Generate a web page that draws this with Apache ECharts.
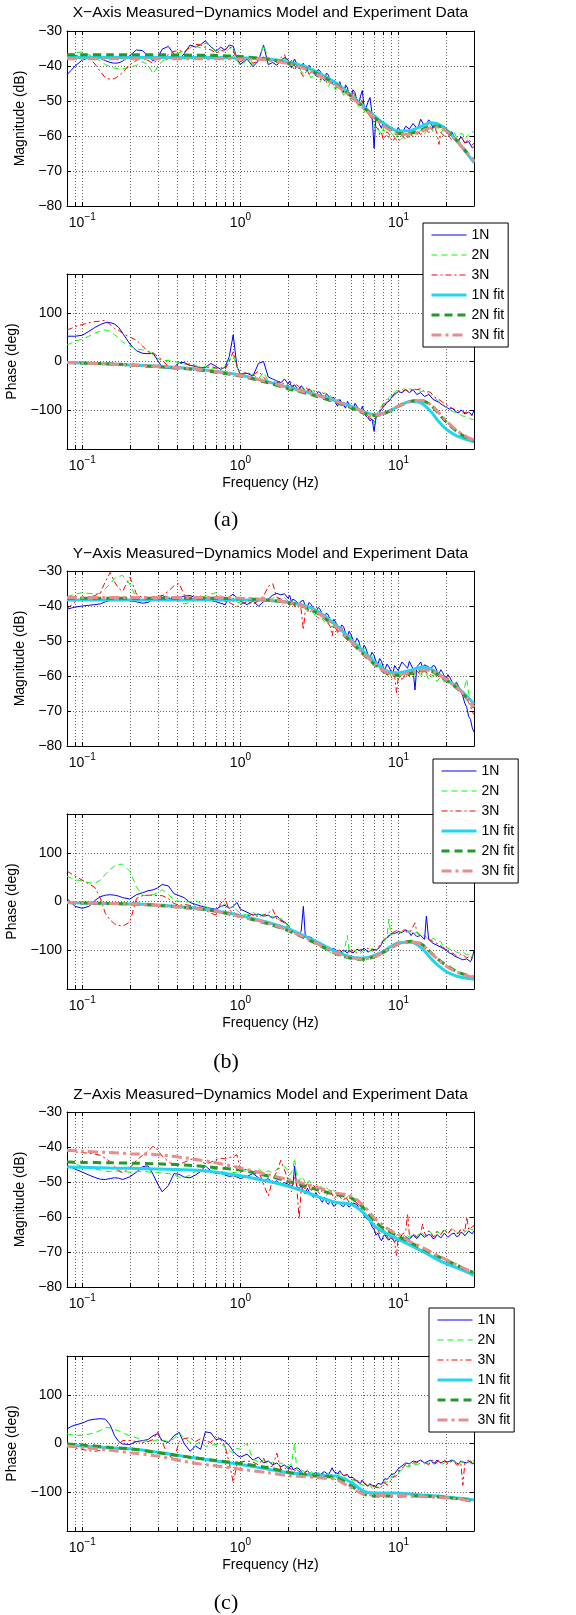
<!DOCTYPE html>
<html>
<head>
<meta charset="utf-8">
<title>Measured-Dynamics Model and Experiment Data</title>
<script src="https://cdn.jsdelivr.net/npm/echarts@6/dist/echarts.min.js"></script>
<style>
  html, body { margin: 0; padding: 0; background: #fff; }
  #chart { width: 576px; height: 1615px; }
</style>
</head>
<body>
<div id="chart"></div>
<script>
// frequency grid of the measured data (Hz): 44 points below 2 Hz, 97 points from 2 to 30 Hz
const FREQ = [
  0.08, 0.085, 0.09, 0.1, 0.11, 0.12, 0.13, 0.14, 0.15, 0.16, 0.17,
  0.18, 0.2, 0.22, 0.24, 0.26, 0.28, 0.3, 0.32, 0.35, 0.38, 0.41,
  0.44, 0.48, 0.52, 0.56, 0.6, 0.65, 0.7, 0.75, 0.8, 0.85, 0.9,
  0.95, 1.0, 1.1, 1.2, 1.3, 1.4, 1.5, 1.6, 1.7, 1.8, 1.9,
  2.0, 2.05, 2.1, 2.15, 2.2, 2.27, 2.35, 2.42, 2.5, 2.57,
  2.65, 2.72, 2.8, 2.9, 3.0, 3.1, 3.2, 3.3, 3.4, 3.5,
  3.6, 3.7, 3.8, 3.9, 4.0, 4.12, 4.25, 4.37, 4.5, 4.62,
  4.75, 4.87, 5.0, 5.15, 5.3, 5.45, 5.6, 5.75, 5.9, 6.05,
  6.2, 6.4, 6.6, 6.8, 7.0, 7.2, 7.4, 7.6, 7.8, 8.0,
  8.2, 8.45, 8.7, 8.95, 9.2, 9.45, 9.7, 9.95, 10.2, 10.5,
  10.8, 11.1, 11.4, 11.7, 12, 12.35, 12.7, 13.05, 13.4, 13.8,
  14.2, 14.6, 15, 15.5, 16, 16.5, 17, 17.5, 18, 18.5,
  19, 19.5, 20, 20.5, 21, 21.75, 22.5, 23.25, 24, 24.75,
  25.5, 26.25, 27, 27.75, 28.5, 29.25, 30
];
// frequency grid of the fitted models (Hz)
const FIT_FREQ = [0.08, 0.1, 0.15, 0.2, 0.3, 0.5, 0.7, 1, 1.5, 2, 2.5, 3, 4, 5, 6, 7, 8, 9, 10, 12, 14, 16, 18, 20, 23, 26, 30];

// tick positions
const X_TICKS = [0.09, 0.1, 0.2, 0.3, 0.4, 0.5, 0.6, 0.7, 0.8, 0.9, 1, 2, 3, 4, 5, 6, 7, 8, 9, 10, 20];
const X_LABELS = [0.1, 1, 10];
const PHASE_TICKS = [-100, 0, 100];

// ---- (a) X axis ----
const A_MAG_1N = [
  -42.5, -41.2, -40.0, -38.3, -37.6, -37.4, -37.8, -38.5, -39.0, -39.2, -39.1,
  -38.6, -37.0, -35.4, -35.6, -37.2, -38.6, -37.5, -35.2, -34.4, -36.6, -38.2,
  -36.5, -34.0, -34.6, -33.9, -32.8, -34.5, -35.8, -34.6, -35.5, -34.0, -34.3,
  -37.8, -39.5, -38.0, -40.2, -38.5, -34.0, -39.6, -39.0, -39.8, -38.3, -37.6,
  -38.2, -39.6, -40.5, -38.9, -38.0, -39.4, -40.8, -40.0, -39.2, -40.9,
  -41.5, -39.8, -40.2, -41.9, -42.8, -41.0, -41.5, -43.4, -44.2, -42.0,
  -42.6, -44.0, -45.0, -44.0, -43.6, -45.6, -44.5, -46.3, -47.4, -45.4,
  -46.2, -48.2, -48.8, -46.8, -47.6, -49.8, -50.8, -48.6, -47.0, -51.6,
  -52.2, -50.4, -49.0, -53.8, -63.5, -54.4, -55.6, -56.8, -57.8, -55.8,
  -56.2, -57.6, -58.6, -57.4, -57.0, -58.2, -58.8, -57.6, -57.4, -59.0,
  -58.2, -57.2, -56.8, -58.0, -57.6, -56.4, -56.2, -57.8, -57.0, -55.2,
  -55.6, -57.2, -56.6, -55.4, -56.0, -57.8, -57.2, -56.2, -56.8, -57.6,
  -58.0, -57.2, -58.6, -59.2, -59.6, -58.8, -60.4, -61.0, -61.4, -60.2,
  -61.0, -62.0, -62.4, -61.6, -62.0, -63.4, -63.0
];
const A_MAG_2N = [
  -37.0, -36.6, -36.2, -36.0, -36.8, -37.6, -38.6, -39.6, -40.2, -40.6, -40.8,
  -40.8, -40.4, -39.8, -38.8, -39.6, -42.2, -40.2, -38.6, -37.8, -37.0, -36.2,
  -35.8, -34.8, -34.4, -34.8, -33.4, -34.2, -36.0, -35.4, -36.2, -35.0, -34.6,
  -38.4, -40.0, -38.2, -39.6, -38.2, -34.0, -37.8, -39.2, -38.4, -39.4, -37.8,
  -39.4, -40.2, -38.6, -40.0, -41.0, -40.4, -39.8, -41.6, -42.2, -41.2,
  -40.6, -42.4, -43.4, -42.6, -41.8, -43.8, -44.6, -43.2, -42.8, -44.6,
  -45.8, -44.8, -44.4, -46.0, -46.8, -45.0, -45.4, -47.4, -48.4, -46.6,
  -47.0, -49.0, -49.8, -48.0, -48.6, -50.6, -51.6, -49.4, -50.2, -52.6,
  -53.8, -52.4, -53.0, -55.6, -56.4, -58.4, -57.6, -58.8, -59.4, -57.8,
  -58.2, -60.0, -60.6, -59.0, -59.6, -61.0, -61.2, -59.4, -59.8, -60.8,
  -60.6, -59.0, -59.4, -60.6, -60.0, -59.2, -58.6, -60.0, -59.2, -58.4,
  -58.0, -59.4, -58.6, -57.8, -57.4, -58.8, -58.2, -57.2, -57.6, -59.0,
  -58.8, -57.8, -58.4, -59.4, -59.6, -58.6, -59.0, -60.4, -60.2, -59.2,
  -59.4, -60.8, -60.6, -59.6, -60.0, -58.6, -59.2
];
const A_MAG_3N = [
  -36.6, -36.8, -37.0, -37.4, -37.6, -39.4, -41.6, -43.4, -43.8, -43.6, -42.8,
  -41.8, -39.6, -38.4, -37.6, -38.4, -39.2, -38.2, -37.4, -36.8, -35.8, -35.6,
  -36.0, -34.6, -33.8, -34.0, -34.8, -35.4, -36.2, -35.8, -35.2, -34.4, -35.6,
  -38.2, -38.8, -37.6, -39.2, -38.6, -37.4, -38.8, -38.2, -39.0, -37.6, -36.8,
  -39.6, -39.0, -38.4, -40.4, -41.2, -39.6, -40.0, -42.0, -43.0, -42.0,
  -41.2, -42.4, -42.6, -40.8, -41.6, -43.2, -44.0, -42.4, -43.2, -44.6,
  -45.2, -43.8, -44.6, -45.8, -46.4, -44.8, -45.6, -47.2, -47.6, -46.0,
  -46.8, -48.4, -49.4, -47.6, -48.2, -50.2, -51.0, -48.8, -49.8, -52.0,
  -52.8, -53.6, -54.4, -55.2, -56.0, -57.4, -58.0, -59.6, -59.0, -61.0,
  -60.2, -58.8, -59.4, -60.8, -61.6, -60.6, -60.2, -61.6, -61.0, -59.8,
  -59.8, -61.0, -60.4, -59.2, -59.0, -60.2, -59.6, -58.4, -58.4, -59.6,
  -58.8, -57.6, -57.8, -59.0, -58.6, -57.8, -57.6, -59.2, -62.4, -59.0,
  -58.8, -60.0, -59.6, -58.8, -60.4, -61.0, -60.0, -61.4, -61.2, -60.2,
  -60.6, -62.0, -61.8, -60.8, -61.2, -62.6, -62.0
];
const A_PH_1N = [
  52, 52, 52, 54, 62, 70, 76, 80, 80, 77, 70,
  58, 36, 22, 17, 16, 17, 2, -12, -14, -12, -2,
  -2, -8, -10, -14, -12, -4, -10, -16, -12, 10, 55,
  -10, -28, -24, -30, -4, 0, -32, -36, -40, -44, -36,
  -46, -40, -52, -56, -48, -54, -58, -50, -54, -64,
  -62, -56, -60, -66, -70, -62, -64, -72, -74, -66,
  -68, -76, -80, -74, -86, -92, -78, -84, -90, -96,
  -82, -88, -94, -100, -86, -92, -98, -106, -92, -104,
  -112, -116, -122, -118, -144, -116, -112, -104, -98, -94,
  -90, -84, -82, -76, -74, -68, -66, -62, -58, -64,
  -66, -58, -60, -64, -66, -58, -62, -68, -70, -64,
  -66, -72, -74, -68, -72, -78, -80, -76, -84, -88,
  -90, -92, -94, -98, -98, -96, -100, -104, -106, -100,
  -102, -108, -108, -104, -106, -110, -100
];
const A_PH_2N = [
  34, 38, 42, 46, 52, 58, 63, 65, 62, 55, 48,
  40, 32, 26, 24, 22, 14, 6, 2, 2, 0, -2,
  -6, -4, -8, -14, -10, -16, -12, -18, -10, 4, 12,
  -12, -24, -30, -26, -36, -22, -40, -44, -38, -48, -44,
  -48, -54, -56, -50, -50, -58, -60, -54, -56, -62,
  -64, -60, -58, -64, -66, -72, -70, -66, -64, -72,
  -78, -70, -74, -82, -86, -78, -80, -88, -92, -84,
  -86, -94, -98, -90, -92, -100, -104, -96, -98, -106,
  -110, -116, -112, -120, -128, -112, -104, -98, -92, -86,
  -80, -78, -74, -70, -66, -64, -60, -56, -62, -58,
  -56, -60, -62, -56, -54, -58, -60, -56, -58, -62,
  -64, -60, -62, -66, -70, -72, -76, -78, -82, -84,
  -88, -92, -94, -96, -100, -102, -104, -106, -108, -110,
  -112, -114, -114, -116, -118, -122, -120
];
const A_PH_3N = [
  65, 68, 72, 76, 80, 82, 83, 85, 76, 68, 64,
  58, 50, 44, 32, 20, 18, 10, 3, -10, -17, -4,
  -4, -8, -10, -12, -14, -10, -14, -12, -16, 0, 20,
  -8, -26, -22, -28, -20, -32, -42, -46, -44, -40, -48,
  -50, -46, -44, -52, -56, -48, -52, -58, -60, -54,
  -56, -62, -66, -60, -62, -68, -72, -64, -68, -74,
  -76, -80, -84, -78, -80, -86, -88, -82, -84, -90,
  -94, -88, -90, -96, -100, -92, -94, -102, -106, -100,
  -104, -112, -118, -116, -124, -114, -108, -100, -96, -90,
  -86, -82, -78, -72, -70, -66, -64, -60, -58, -62,
  -62, -58, -56, -62, -60, -56, -54, -58, -62, -56,
  -58, -62, -66, -62, -64, -70, -74, -76, -78, -82,
  -84, -86, -88, -92, -94, -96, -98, -102, -102, -104,
  -106, -102, -104, -108, -110, -108, -112
];
const A_MAG_1N_FIT = [-37.6, -37.6, -37.6, -37.6, -37.6, -37.6, -37.6, -37.7, -38.0, -38.9, -40.0, -41.6, -44.8, -48.3, -51.5, -54.2, -56.3, -57.8, -58.6, -58.4, -57.2, -56.2, -56.7, -58.2, -61.0, -64.0, -67.6];
const A_MAG_2N_FIT = [-36.8, -36.8, -36.8, -36.8, -36.8, -36.9, -37.0, -37.3, -38.1, -39.2, -40.5, -42.0, -45.2, -48.6, -51.8, -54.6, -56.8, -58.4, -59.3, -59.2, -58.2, -57.2, -57.2, -58.4, -61.0, -63.8, -67.0];
const A_MAG_3N_FIT = [-37.9, -37.9, -37.9, -37.9, -37.9, -37.9, -37.9, -38.0, -38.3, -39.3, -40.6, -42.2, -45.4, -48.8, -52.0, -54.8, -57.0, -58.6, -59.5, -59.5, -58.6, -57.6, -57.4, -58.6, -61.1, -63.9, -67.2];
const A_PH_1N_FIT = [-2, -3, -5, -7, -10, -15, -20, -28, -42, -53, -61, -68, -81, -92, -103, -109, -107, -100, -92, -82, -86, -103, -124, -139, -152, -159, -165];
const A_PH_2N_FIT = [-2, -3, -5, -7, -11, -16, -22, -30, -44, -56, -64, -71, -84, -95, -106, -111, -108, -100, -92, -82, -80, -90, -108, -124, -142, -154, -163];
const A_PH_3N_FIT = [-2, -3, -5, -7, -10, -15, -21, -29, -42, -54, -62, -69, -82, -93, -104, -110, -107, -100, -92, -82, -80, -89, -106, -122, -140, -152, -162];

// ---- (b) Y axis ----
const B_MAG_1N = [
  -40.9, -40.6, -40.3, -40.0, -39.8, -39.6, -39.4, -38.8, -38.4, -38.3, -38.3,
  -38.3, -38.5, -38.8, -39.2, -39.0, -38.0, -37.4, -37.0, -37.8, -38.2, -37.6,
  -37.2, -37.0, -37.6, -37.2, -38.0, -38.4, -38.8, -39.2, -39.6, -37.4, -36.6,
  -37.8, -38.6, -39.6, -38.6, -40.0, -38.8, -38.0, -36.9, -36.4, -36.8, -36.5,
  -37.8, -37.0, -38.8, -38.0, -37.6, -38.8, -39.4, -38.6, -38.4, -40.0,
  -40.2, -39.0, -39.6, -40.8, -41.8, -40.4, -41.0, -42.6, -43.4, -42.0,
  -42.6, -44.2, -45.0, -43.8, -44.6, -45.8, -46.8, -45.4, -46.0, -47.8,
  -48.6, -47.2, -48.2, -49.6, -50.6, -49.2, -50.0, -52.0, -52.8, -51.2,
  -52.0, -53.8, -54.8, -53.2, -54.2, -55.8, -56.6, -55.0, -55.8, -57.4,
  -58.2, -56.6, -57.4, -58.6, -59.2, -57.0, -57.8, -58.4, -58.8, -56.0,
  -56.6, -57.2, -57.8, -55.8, -56.2, -58.0, -64.0, -57.4, -56.8, -56.0,
  -57.6, -56.8, -56.4, -57.4, -58.0, -57.0, -57.2, -58.6, -59.4, -58.2,
  -59.0, -60.0, -60.8, -59.6, -60.2, -61.6, -62.4, -61.8, -63.0, -64.4,
  -65.8, -67.8, -69.0, -71.6, -72.4, -74.8, -76.0
];
const B_MAG_2N = [
  -37.3, -37.0, -36.6, -36.2, -36.4, -36.6, -36.4, -35.0, -33.6, -32.1, -31.5,
  -31.3, -33.8, -37.8, -38.6, -38.4, -37.6, -37.2, -37.0, -37.4, -38.2, -38.8,
  -39.4, -39.0, -38.0, -37.6, -37.2, -36.6, -36.2, -37.0, -38.0, -38.6, -37.8,
  -38.8, -39.2, -38.4, -39.6, -38.2, -37.4, -38.6, -37.8, -37.2, -38.8, -37.6,
  -38.6, -39.8, -39.4, -38.4, -38.8, -39.6, -40.6, -39.4, -39.8, -41.0,
  -41.6, -40.4, -41.0, -42.2, -43.0, -41.6, -42.4, -43.8, -44.6, -43.2,
  -44.0, -45.4, -46.2, -45.0, -45.8, -47.0, -47.8, -46.6, -47.2, -48.8,
  -49.6, -48.2, -49.0, -50.6, -51.4, -50.2, -51.0, -52.6, -53.4, -52.0,
  -53.0, -54.6, -55.6, -54.4, -55.2, -56.6, -57.4, -56.2, -57.0, -58.6,
  -59.2, -58.0, -58.8, -60.0, -60.6, -59.0, -59.4, -61.0, -60.2, -58.8,
  -59.0, -60.4, -59.8, -58.6, -58.6, -60.0, -59.4, -58.4, -58.8, -59.8,
  -60.0, -59.0, -59.6, -61.0, -60.8, -59.6, -60.2, -61.6, -61.4, -60.2,
  -60.6, -61.8, -62.0, -60.8, -61.6, -62.8, -63.2, -62.0, -62.6, -64.0,
  -64.4, -63.0, -60.8, -65.0, -66.2, -67.4, -69.0
];
const B_MAG_3N = [
  -40.7, -39.8, -38.8, -38.2, -37.6, -37.0, -36.2, -33.0, -30.4, -33.2, -35.0,
  -35.8, -31.8, -36.6, -37.6, -37.8, -37.6, -37.8, -37.0, -35.8, -34.2, -33.6,
  -36.8, -37.8, -38.0, -37.8, -37.6, -38.0, -38.2, -38.4, -38.6, -39.0, -39.6,
  -40.2, -39.6, -38.8, -39.4, -38.6, -37.2, -34.4, -33.6, -37.6, -38.0, -38.4,
  -39.0, -39.8, -38.4, -39.0, -40.2, -38.8, -39.2, -41.0, -46.8, -41.2,
  -40.6, -42.0, -41.6, -40.8, -42.4, -43.4, -43.6, -42.2, -43.0, -44.4,
  -44.8, -45.8, -48.6, -45.6, -46.2, -47.6, -47.0, -45.8, -48.4, -49.2,
  -48.0, -49.0, -50.0, -51.2, -50.6, -51.2, -51.8, -53.0, -52.6, -53.2,
  -53.6, -55.2, -54.8, -55.4, -55.6, -57.0, -56.4, -57.6, -57.8, -59.0,
  -58.4, -59.8, -59.4, -60.2, -60.8, -59.8, -64.8, -60.6, -59.6, -61.0,
  -60.4, -58.8, -59.2, -60.2, -58.8, -59.8, -59.6, -58.6, -58.4, -59.6,
  -59.0, -58.2, -58.6, -60.0, -59.6, -58.8, -59.2, -60.6, -60.4, -59.4,
  -60.0, -61.0, -61.4, -60.6, -61.0, -62.2, -62.6, -62.0, -63.4, -64.2,
  -64.8, -65.4, -66.4, -67.6, -68.6, -70.2, -71.0
];
const B_PH_1N = [
  6, -2, -10, -14, -10, 2, 10, 13, 14, 13, 11,
  8, 5, 14, 18, 22, 24, 28, 35, 32, 16, 12,
  8, -2, -6, -9, -12, -14, -16, -10, -8, -14, -10,
  -2, -16, -22, -28, -26, -30, -28, -34, -30, -38, -42,
  -48, -54, -60, -56, -62, -68, -66, -62, -10, -70,
  -72, -68, -74, -78, -80, -86, -84, -90, -92, -98,
  -96, -100, -102, -96, -98, -104, -108, -102, -100, -96,
  -106, -100, -98, -106, -104, -98, -96, -102, -104, -96,
  -98, -104, -102, -98, -96, -100, -100, -94, -90, -82,
  -78, -74, -72, -66, -62, -66, -70, -62, -58, -64,
  -66, -58, -60, -64, -70, -64, -66, -72, -76, -70,
  -72, -78, -30, -78, -82, -86, -88, -90, -92, -94,
  -96, -98, -100, -104, -106, -108, -112, -114, -116, -118,
  -120, -124, -118, -120, -124, -116, -100
];
const B_PH_2N = [
  52, 48, 45, 42, 39, 37, 44, 56, 66, 73, 76,
  77, 62, 30, 13, 12, 14, 18, 24, 14, 4, 0,
  -2, 0, 2, -4, -10, -16, -22, -12, -4, -14, -10,
  -18, -24, -28, -22, -30, -26, -34, -30, -38, -34, -42,
  -50, -54, -56, -62, -60, -64, -66, -68, -70, -74,
  -76, -80, -82, -84, -86, -90, -92, -96, -98, -100,
  -102, -106, -108, -102, -104, -110, -112, -106, -104, -108,
  -70, -104, -108, -102, -106, -100, -100, -106, -104, -100,
  -98, -104, -102, -96, -96, -100, -98, -92, -86, -84,
  -80, -72, -36, -70, -68, -62, -62, -66, -68, -62,
  -60, -64, -66, -60, -62, -66, -70, -64, -68, -72,
  -76, -70, -72, -78, -80, -76, -78, -84, -86, -82,
  -90, -92, -94, -96, -98, -100, -102, -104, -106, -102,
  -104, -108, -110, -106, -108, -114, -112
];
const B_PH_3N = [
  63, 57, 52, 44, 36, 29, 7, -25, -38, -46, -49,
  -51, -42, 6, 12, 13, 13, 12, 12, 6, -4, -8,
  -6, -8, -10, -12, -18, -24, -28, -4, 6, -18, -22,
  -26, -28, -30, -26, -32, -28, -24, -16, -36, -40, -44,
  -54, -56, -58, -62, -62, -64, -66, -70, -72, -70,
  -74, -78, -80, -82, -84, -88, -90, -92, -94, -98,
  -100, -104, -96, -102, -106, -102, -100, -106, -104, -100,
  -98, -104, -106, -100, -100, -106, -104, -98, -96, -100,
  -102, -96, -98, -102, -104, -98, -94, -90, -84, -80,
  -76, -72, -70, -66, -64, -60, -60, -64, -66, -62,
  -58, -62, -64, -60, -60, -64, -44, -62, -66, -70,
  -74, -70, -72, -76, -80, -82, -84, -86, -88, -92,
  -94, -96, -98, -102, -104, -106, -108, -112, -112, -108,
  -110, -114, -116, -112, -112, -118, -116
];
const B_MAG_1N_FIT = [-38.3, -38.3, -38.3, -38.3, -38.3, -38.3, -38.3, -38.3, -38.4, -38.9, -39.8, -41.2, -45.3, -49.6, -53.0, -55.9, -58.0, -59.0, -59.1, -58.3, -57.5, -58.0, -59.5, -61.0, -63.0, -65.0, -68.0];
const B_MAG_2N_FIT = [-37.8, -37.8, -37.8, -37.8, -37.8, -37.8, -37.8, -37.9, -38.3, -39.0, -40.2, -41.8, -46.0, -50.3, -53.8, -56.6, -58.6, -59.6, -59.8, -59.2, -58.5, -58.6, -59.8, -61.2, -63.2, -65.5, -69.0];
const B_MAG_3N_FIT = [-37.6, -37.6, -37.6, -37.6, -37.6, -37.6, -37.6, -37.8, -38.2, -39.0, -40.1, -41.6, -45.8, -50.1, -53.6, -56.4, -58.4, -59.4, -59.6, -59.0, -58.3, -58.4, -59.6, -61.0, -63.0, -65.3, -68.8];
const B_PH_1N_FIT = [-2, -3, -4, -5, -7, -13, -19, -29, -43, -56, -70, -82, -103, -114, -116, -111, -103, -92, -85, -84, -96, -117, -133, -144, -153, -157, -160];
const B_PH_2N_FIT = [-2, -3, -4, -5, -8, -14, -20, -31, -46, -60, -74, -86, -107, -117, -119, -114, -105, -95, -87, -82, -88, -105, -120, -131, -143, -150, -155];
const B_PH_3N_FIT = [-2, -3, -4, -5, -8, -14, -20, -31, -45, -59, -73, -85, -106, -116, -118, -114, -105, -95, -87, -83, -89, -106, -121, -133, -144, -151, -156];

// ---- (c) Z axis ----
const C_MAG_1N = [
  -45.3, -45.8, -46.3, -47.2, -48.0, -48.7, -49.2, -49.3, -49.0, -48.8, -48.9,
  -49.3, -48.5, -47.2, -45.6, -45.4, -47.8, -50.6, -52.8, -51.0, -47.6, -47.8,
  -48.6, -48.8, -48.0, -47.0, -45.4, -46.8, -47.6, -47.4, -48.0, -48.4, -48.2,
  -48.6, -49.0, -48.4, -47.6, -48.8, -49.6, -49.0, -50.4, -49.6, -50.8, -50.2,
  -50.6, -51.4, -51.8, -50.8, -45.4, -51.2, -52.0, -51.0, -52.6, -53.4,
  -51.8, -52.8, -53.6, -54.4, -53.0, -54.2, -55.0, -55.8, -54.4, -55.8,
  -56.4, -55.2, -55.6, -57.0, -56.8, -55.8, -56.0, -56.8, -57.0, -55.8,
  -56.2, -57.2, -56.8, -56.0, -55.6, -56.4, -57.4, -57.8, -58.6, -59.6,
  -60.2, -60.8, -61.4, -62.8, -63.6, -65.2, -64.6, -66.0, -66.8, -65.6,
  -65.0, -66.2, -66.6, -65.8, -65.4, -67.0, -67.4, -66.2, -66.0, -67.0,
  -66.8, -65.6, -65.2, -66.4, -66.2, -65.2, -65.0, -66.2, -65.8, -64.8,
  -64.8, -65.8, -66.0, -65.0, -65.2, -66.2, -66.0, -65.0, -65.0, -66.0,
  -65.8, -64.6, -64.8, -65.8, -65.6, -64.8, -64.6, -65.6, -65.4, -64.4,
  -64.6, -65.4, -65.0, -64.0, -64.2, -64.8, -64.0
];
const C_MAG_2N = [
  -44.1, -44.4, -44.8, -45.6, -46.0, -46.3, -46.6, -46.9, -47.0, -46.8, -46.9,
  -47.0, -47.2, -47.0, -46.9, -47.1, -47.3, -47.4, -47.4, -47.6, -48.0, -48.6,
  -48.8, -48.0, -47.0, -46.0, -45.6, -46.2, -46.4, -47.0, -47.2, -47.6, -47.4,
  -47.2, -47.0, -46.8, -47.4, -46.2, -47.6, -46.8, -47.4, -46.4, -46.0, -45.6,
  -46.8, -48.0, -47.6, -46.4, -43.2, -48.6, -49.8, -48.4, -49.0, -50.2,
  -50.8, -49.6, -50.2, -51.0, -51.6, -50.6, -51.0, -52.2, -52.6, -51.6,
  -52.2, -53.0, -53.4, -52.4, -53.0, -54.0, -54.2, -53.2, -53.6, -54.8,
  -54.6, -53.8, -54.2, -55.4, -55.0, -55.8, -56.2, -57.0, -57.6, -58.2,
  -59.0, -60.0, -60.6, -61.6, -62.2, -62.4, -63.0, -64.0, -64.4, -63.4,
  -64.0, -65.0, -65.4, -64.2, -64.8, -66.0, -65.8, -64.8, -65.2, -66.2,
  -65.8, -64.8, -65.0, -65.8, -65.6, -64.8, -64.6, -65.6, -65.4, -64.2,
  -64.4, -65.4, -65.2, -64.0, -64.4, -65.2, -65.0, -64.0, -64.2, -65.0,
  -64.8, -63.8, -64.0, -64.8, -64.6, -63.6, -63.8, -64.6, -64.4, -63.2,
  -63.6, -64.4, -64.0, -63.0, -63.4, -63.8, -63.0
];
const C_MAG_3N = [
  -41.0, -41.2, -41.4, -41.6, -41.8, -42.0, -42.4, -43.2, -44.2, -45.6, -46.8,
  -47.4, -46.0, -43.8, -42.4, -41.2, -39.8, -40.8, -42.6, -44.2, -45.2, -45.0,
  -44.4, -43.6, -43.2, -44.0, -44.8, -44.4, -43.6, -43.2, -43.4, -43.0, -42.8,
  -42.2, -46.6, -46.4, -47.2, -46.8, -50.6, -54.0, -49.2, -47.0, -43.8, -46.6,
  -49.4, -50.6, -52.8, -50.0, -48.6, -51.0, -60.6, -52.4, -51.4, -52.0,
  -50.2, -51.4, -52.8, -51.0, -51.8, -53.0, -53.4, -52.2, -52.6, -53.8,
  -54.0, -52.8, -53.4, -54.8, -54.6, -53.6, -54.0, -55.0, -55.2, -54.2,
  -54.6, -55.8, -55.6, -54.8, -55.0, -56.0, -56.6, -57.2, -58.2, -59.0,
  -59.6, -60.6, -61.2, -62.2, -62.8, -64.6, -63.6, -64.8, -65.2, -63.8,
  -64.2, -65.4, -66.4, -65.2, -65.0, -67.4, -71.0, -65.8, -66.4, -65.0,
  -65.2, -64.2, -59.0, -65.0, -66.0, -64.8, -64.6, -65.8, -65.6, -64.6,
  -62.0, -64.6, -65.4, -64.0, -64.4, -65.6, -65.4, -64.2, -64.0, -65.0,
  -64.8, -63.4, -63.6, -64.8, -64.6, -63.2, -63.8, -64.8, -64.6, -63.6,
  -63.4, -64.2, -60.0, -63.6, -63.8, -62.8, -62.4
];
const C_PH_1N = [
  30, 35, 38, 42, 48, 50, 51, 50, 38, 16, 4,
  -1, -2, 4, 6, 8, 16, 20, 6, 2, 16, 23,
  0, -16, -5, -12, 24, 22, 8, 10, 4, -4, -16,
  -24, -28, -22, -34, -28, -40, -36, -44, -40, -48, -44,
  -52, -48, -46, -54, -56, -50, -52, -58, -62, -58,
  -56, -60, -64, -62, -60, -62, -66, -60, -58, -62,
  -64, -58, -50, -58, -60, -62, -56, -62, -66, -68,
  -64, -70, -74, -70, -72, -78, -80, -82, -76, -82,
  -86, -88, -84, -86, -90, -88, -82, -86, -84, -78,
  -72, -74, -70, -64, -60, -62, -58, -52, -48, -46,
  -44, -40, -38, -42, -42, -36, -34, -38, -40, -34,
  -36, -40, -42, -36, -34, -40, -40, -34, -36, -40,
  -42, -36, -34, -38, -40, -34, -36, -40, -42, -36,
  -38, -42, -40, -36, -36, -42, -40
];
const C_PH_2N = [
  20, 18, 17, 17, 19, 22, 27, 33, 32, 29, 26,
  22, 16, 12, 6, 4, 5, 8, 7, 4, 10, 22,
  12, 2, -2, 4, -6, -4, -2, 0, -8, -14, -20,
  -10, -12, 0, -32, -38, -34, -42, -38, -46, -40, -44,
  -48, -44, -42, -46, 0, -54, -60, -54, -56, -62,
  -64, -60, -58, -62, -66, -60, -62, -66, -68, -64,
  -60, -64, -66, -62, -76, -66, -62, -66, -68, -72,
  -74, -78, -80, -74, -76, -82, -86, -84, -80, -86,
  -90, -84, -86, -92, -94, -88, -86, -92, -90, -84,
  -78, -80, -76, -70, -68, -66, -64, -60, -56, -54,
  -52, -46, -44, -48, -48, -42, -40, -44, -44, -40,
  -38, -42, -44, -40, -38, -42, -42, -38, -36, -40,
  -42, -38, -38, -40, -40, -36, -36, -40, -42, -38,
  -38, -40, -40, -36, -36, -38, -40
];
const C_PH_3N = [
  -5, -7, -9, -12, -15, -16, -14, -12, -10, -8, -2,
  6, 6, 4, 2, 4, 8, 24, 2, -24, -32, 4,
  10, 12, 4, 10, 6, 2, 16, 8, -6, -40, -80,
  -44, -38, -36, -38, -44, -30, -50, -46, -20, -54, -50,
  -56, -50, -52, -58, -60, -54, -56, -62, -64, -58,
  -60, -66, -68, -64, -62, -66, -68, -62, -64, -70,
  -70, -64, -62, -68, -68, -62, -60, -64, -66, -70,
  -64, -68, -72, -74, -70, -76, -78, -80, -74, -80,
  -84, -88, -82, -88, -92, -90, -86, -92, -94, -86,
  -80, -86, -82, -76, -70, -72, -66, -60, -54, -50,
  -48, -42, -38, -46, -44, -40, -36, -40, -42, -36,
  -34, -38, -40, -44, -36, -34, -42, -38, -34, -40,
  -40, -34, -36, -42, -42, -36, -38, -44, -44, -40,
  -86, -40, -38, -34, -40, -36, -34
];
const C_MAG_1N_FIT = [-45.7, -45.8, -46.0, -46.1, -46.3, -46.6, -47.2, -48.2, -49.8, -51.2, -52.6, -54.0, -55.8, -56.4, -58.8, -62.4, -64.3, -65.5, -66.4, -68.2, -69.7, -71.1, -72.4, -73.3, -74.4, -75.4, -76.7];
const C_MAG_2N_FIT = [-44.3, -44.4, -44.5, -44.6, -44.8, -45.3, -45.9, -46.6, -48.3, -49.8, -51.0, -52.1, -53.6, -54.5, -57.4, -61.0, -63.2, -64.5, -65.5, -67.4, -68.9, -70.3, -71.4, -72.4, -73.6, -74.8, -75.9];
const C_MAG_3N_FIT = [-40.9, -41.2, -41.6, -41.9, -42.2, -43.4, -44.5, -46.0, -47.9, -49.3, -50.4, -51.4, -53.1, -54.0, -56.7, -60.2, -62.4, -64.0, -65.0, -67.2, -68.6, -70.0, -71.2, -72.2, -73.5, -74.7, -75.9];
const C_PH_1N_FIT = [-4, -5, -9, -11, -18, -29, -36, -43, -53, -60, -63, -66, -67, -80, -98, -102, -102, -102, -102, -104, -106, -107, -108, -110, -112, -113, -116];
const C_PH_2N_FIT = [-1, -3, -8, -11, -19, -29, -35, -41, -50, -59, -64, -67, -70, -87, -104, -108, -108, -108, -108, -108, -108, -109, -110, -111, -113, -115, -120];
const C_PH_3N_FIT = [-5, -8, -14, -19, -26, -40, -46, -53, -60, -66, -68, -70, -74, -91, -104, -106, -107, -107, -107, -108, -109, -110, -111, -112, -114, -116, -120];

const NAMES = ['1N', '2N', '3N', '1N fit', '2N fit', '3N fit'];

const FONT = '"Liberation Sans", Arial, Helvetica, sans-serif';
const STYLES = {
  '1N': { color: '#0000ff', width: 1, type: 'solid' },
  '2N': { color: '#00ff00', width: 1, type: [6, 4] },
  '3N': { color: '#ff0000', width: 1, type: [6, 3, 2, 3] },
  '1N fit': { color: '#1ed6f0', width: 3, type: 'solid' },
  '2N fit': { color: '#229a28', width: 3, type: [8, 5] },
  '3N fit': { color: '#e88c8c', width: 3, type: [10, 4, 3, 4] }
};

const PANELS = [
  {
    title: 'X−Axis Measured−Dynamics Model and Experiment Data', tag: '(a)',
    magTop: 31, phTop: 274, titleY: 13, tagY: 520, legendLeft: 423, legendTop: 223,
    mag: [A_MAG_1N, A_MAG_2N, A_MAG_3N, A_MAG_1N_FIT, A_MAG_2N_FIT, A_MAG_3N_FIT],
    ph: [A_PH_1N, A_PH_2N, A_PH_3N, A_PH_1N_FIT, A_PH_2N_FIT, A_PH_3N_FIT]
  },
  {
    title: 'Y−Axis Measured−Dynamics Model and Experiment Data', tag: '(b)',
    magTop: 571, phTop: 814, titleY: 554, tagY: 1062, legendLeft: 433, legendTop: 759,
    mag: [B_MAG_1N, B_MAG_2N, B_MAG_3N, B_MAG_1N_FIT, B_MAG_2N_FIT, B_MAG_3N_FIT],
    ph: [B_PH_1N, B_PH_2N, B_PH_3N, B_PH_1N_FIT, B_PH_2N_FIT, B_PH_3N_FIT]
  },
  {
    title: 'Z−Axis Measured−Dynamics Model and Experiment Data', tag: '(c)',
    magTop: 1112, phTop: 1356, titleY: 1095, tagY: 1603, legendLeft: 429, legendTop: 1308,
    mag: [C_MAG_1N, C_MAG_2N, C_MAG_3N, C_MAG_1N_FIT, C_MAG_2N_FIT, C_MAG_3N_FIT],
    ph: [C_PH_1N, C_PH_2N, C_PH_3N, C_PH_1N_FIT, C_PH_2N_FIT, C_PH_3N_FIT]
  }
];

const PLOT_LEFT = 67;
const PLOT_WIDTH = 407;
const PLOT_HEIGHT = 175;

const gridLine = { show: true, lineStyle: { color: '#666', width: 1, type: [1, 2] } };
const blackLine = { show: true, onZero: false, lineStyle: { color: '#000', width: 1 } };
const minus = v => String(v).replace('-', '−');

function xAxes(g, isPhase) {
  const common = {
    gridIndex: g, type: 'log', logBase: 10, min: 0.08, max: 30,
    axisLine: blackLine,
    axisTick: { show: true, inside: true, length: 4, customValues: X_TICKS, lineStyle: { color: '#000' } },
    minorTick: { show: false }
  };
  const bottom = Object.assign({}, common, {
    position: 'bottom',
    splitLine: gridLine,
    axisLabel: {
      customValues: X_LABELS,
      margin: 6,
      formatter: v => {
        const e = Math.round(Math.log10(v));
        return '{b|10}{s|' + (e < 0 ? '−' + (-e) : e) + '}';
      },
      rich: {
        b: { fontSize: 14, fontFamily: FONT, color: '#000', verticalAlign: 'bottom' },
        s: { fontSize: 10, fontFamily: FONT, color: '#000', verticalAlign: 'bottom', padding: [0, 0, 8, 0] }
      }
    }
  });
  if (isPhase) {
    Object.assign(bottom, {
      name: 'Frequency (Hz)', nameLocation: 'middle', nameGap: 27,
      nameTextStyle: { fontSize: 14, fontFamily: FONT, color: '#000' }
    });
  }
  const top = Object.assign({}, common, {
    position: 'top', splitLine: { show: false }, axisLabel: { show: false }
  });
  return [bottom, top];
}

function yAxes(g, isPhase) {
  const range = isPhase
    ? { min: -180, max: 180 }
    : { min: -80, max: -30, interval: 10 };
  const tick = { show: true, inside: true, length: 4, lineStyle: { color: '#000' } };
  if (isPhase) tick.customValues = PHASE_TICKS;
  const left = Object.assign({ gridIndex: g, type: 'value', position: 'left' }, range, {
    axisLine: blackLine,
    axisTick: tick,
    splitLine: gridLine,
    axisLabel: Object.assign({
      margin: 5, fontSize: 14, fontFamily: FONT, color: '#000', formatter: minus
    }, isPhase ? { customValues: PHASE_TICKS } : {}),
    name: isPhase ? 'Phase (deg)' : 'Magnitude (dB)',
    nameLocation: 'middle', nameGap: 32, nameRotate: 90,
    nameTextStyle: { fontSize: 14, fontFamily: FONT, color: '#000' }
  });
  const right = Object.assign({ gridIndex: g, type: 'value', position: 'right' }, range, {
    axisLine: blackLine,
    axisTick: tick,
    splitLine: { show: false },
    axisLabel: { show: false }
  });
  return [left, right];
}

function lineSeries(name, xs, ys, g) {
  const st = STYLES[name];
  return {
    name: name,
    type: 'line',
    xAxisIndex: g * 2,
    yAxisIndex: g * 2,
    data: xs.map((f, i) => [f, ys[i]]),
    symbol: 'none',
    showSymbol: false,
    smooth: name.indexOf('fit') > 0 ? 0.3 : false,
    lineStyle: { color: st.color, width: st.width, type: st.type },
    itemStyle: { color: st.color },
    emphasis: { disabled: true },
    silent: true,
    clip: true
  };
}

const grid = [];
const xAxis = [];
const yAxis = [];
const series = [];
const legend = [];
const graphic = [];

PANELS.forEach((p, i) => {
  [[p.magTop, p.mag, false], [p.phTop, p.ph, true]].forEach(([top, sets, isPhase], k) => {
    const g = i * 2 + k;
    grid.push({ left: PLOT_LEFT, top: top, width: PLOT_WIDTH, height: PLOT_HEIGHT, outerBoundsMode: 'none' });
    xAxis.push(...xAxes(g, isPhase));
    yAxis.push(...yAxes(g, isPhase));
    NAMES.forEach((name, s) => {
      const xs = s < 3 ? FREQ : FIT_FREQ;
      if (sets[s].length !== xs.length) console.error('length mismatch', p.tag, isPhase, name, sets[s].length);
      series.push(lineSeries(name, xs, sets[s], g));
    });
  });
  legend.push({
    orient: 'vertical', left: p.legendLeft, top: p.legendTop,
    itemWidth: 35, itemHeight: 14, itemGap: 6,
    padding: [5, 4, 5, 7],
    backgroundColor: '#fff', borderColor: '#000', borderWidth: 1, borderRadius: 0,
    selectedMode: false, z: 10,
    textStyle: { fontSize: 14, fontFamily: FONT, color: '#000' },
    data: NAMES.map(n => ({
      name: n,
      itemStyle: { opacity: 0, color: 'rgba(0,0,0,0)', borderWidth: 0 },
      lineStyle: { color: STYLES[n].color, width: STYLES[n].width, type: STYLES[n].type, opacity: 1 }
    }))
  });
  graphic.push({
    type: 'text', x: PLOT_LEFT + PLOT_WIDTH / 2, y: p.titleY,
    style: { text: p.title, fill: '#000', font: '15.5px ' + FONT, textAlign: 'center', textVerticalAlign: 'middle', align: 'center', verticalAlign: 'middle' }
  });
  graphic.push({
    type: 'text', x: 226, y: p.tagY,
    style: { text: p.tag, fill: '#000', font: '22px "Liberation Serif", "Times New Roman", serif', textAlign: 'center', textVerticalAlign: 'middle', align: 'center', verticalAlign: 'middle' }
  });
});

const chart = echarts.init(document.getElementById('chart'), null, { renderer: 'canvas' });
chart.setOption({
  backgroundColor: '#fff',
  animation: false,
  textStyle: { fontFamily: FONT },
  grid: grid,
  xAxis: xAxis,
  yAxis: yAxis,
  legend: legend,
  graphic: graphic,
  series: series
});
window.addEventListener('resize', () => chart.resize());
</script>
</body>
</html>
